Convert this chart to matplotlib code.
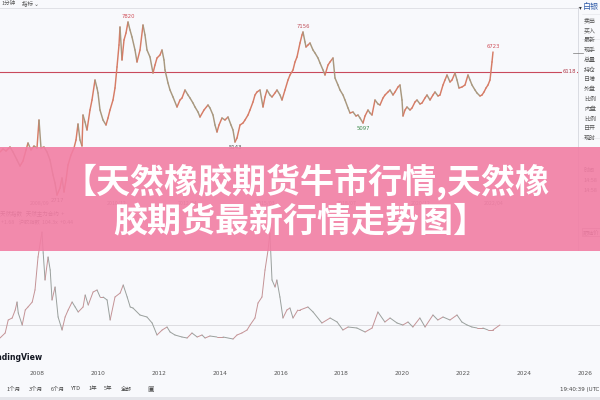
import numpy as np
import matplotlib
matplotlib.use('Agg')
import matplotlib.pyplot as plt
from matplotlib.collections import LineCollection
from matplotlib.patches import Rectangle

plt.rcParams['font.family'] = ['Noto Sans CJK SC', 'DejaVu Sans']

# ---------------- data ----------------
top_idx = [0, 3, 6, 10, 13, 17, 20, 23, 26, 28, 31, 34, 37, 39, 41, 44, 47, 50, 53, 55,
           57, 60, 62, 64, 66, 68, 71, 74, 76, 78, 80, 82, 83, 85, 87, 90, 92, 95, 97, 98,
           100, 103, 106, 108, 110, 113, 115, 117, 119, 120, 122, 124, 126, 128, 130, 132, 135, 137, 140, 143,
           145, 147, 150, 153, 155, 157, 160, 162, 164, 165, 168, 170, 173, 177, 180, 182, 185, 188, 190, 193,
           195, 198, 200, 204, 208, 210, 213, 215, 217, 219, 222, 225, 228, 231, 233, 235, 237, 240, 243, 245,
           248, 250, 253, 255, 257, 260, 263, 265, 267, 270, 272, 275, 277, 280, 282, 285, 288, 290, 293, 295,
           297, 300, 302, 303, 305, 306, 308, 310, 313, 315, 318, 320, 323, 325, 328, 330, 333, 335, 338, 340,
           343, 345, 348, 350, 353, 356, 358, 360, 363, 365, 368, 370, 372, 375, 378, 380, 383, 385, 388, 390,
           393, 395, 398, 400, 402, 403, 405, 407, 410, 412, 415, 417, 420, 422, 425, 427, 430, 433, 435, 438,
           440, 443, 445, 447, 450, 452, 455, 457, 459, 462, 465, 468, 470, 472, 475, 477, 480, 482, 484, 486,
           488, 490, 492, 493]
top_price = [3556, 3652, 3588, 3716, 3556, 3300, 3108, 3268, 3620, 3844, 3620, 3748, 3684, 4580, 3684, 3716, 3556, 3300, 2820, 2564,
             2180, 2404, 2724, 2276, 2660, 3140, 3460, 3684, 3940, 4452, 3940, 3748, 4740, 4516, 4260, 4900, 5220, 5860, 5604, 5444,
             4900, 4580, 4420, 4644, 4900, 5220, 5604, 6276, 6980, 7556, 6500, 7140, 7364, 7716, 7460, 7236, 6820, 6436, 6820, 7620,
             7300, 6820, 6596, 6084, 6340, 6564, 6660, 6820, 6500, 6180, 5764, 5540, 5316, 4996, 5220, 5284, 5540, 5380, 5284, 5124,
             4996, 4836, 4676, 4900, 5060, 4964, 4740, 4420, 4196, 4420, 4644, 4580, 4676, 4420, 4260, 3876, 4004, 4420, 4484, 4580,
             4740, 4900, 5156, 5380, 5476, 5540, 4996, 5316, 5540, 5380, 5316, 5444, 5540, 5380, 5220, 5540, 5860, 6020, 6180, 6436,
             6596, 7044, 7300, 7396, 7076, 6916, 6980, 7044, 6820, 6724, 6564, 6404, 6180, 6020, 6340, 6436, 6564, 5924, 5700, 5540,
             5380, 5220, 4964, 4804, 4836, 4708, 4740, 4644, 4484, 4708, 4900, 4804, 4740, 5220, 5092, 5060, 5284, 5380, 5476, 5540,
             5380, 5476, 5636, 5700, 5220, 4708, 4900, 4996, 4900, 4964, 5156, 5220, 5092, 5124, 5284, 5380, 5220, 5380, 5476, 5348,
             5380, 5700, 5860, 6020, 5796, 5860, 6084, 5860, 5604, 5636, 5700, 6020, 5860, 5700, 5540, 5444, 5348, 5380, 5476, 5604,
             5700, 5860, 6436, 6756]
ref_price = 6118
# (text, bar index, above?, colour)
peak_labels = [("7820", 128, True, '#d0505a'), ("7156", 303, True, '#c0505a'),
               ("6723", 493, True, '#d0505a'), ("5097", 363, False, '#3c8a4a'),
               ("5143", 235, False, '#444444'), ("2717", 57, False, '#555555')]
top_dates = ["2008/09", "2010/12", "2012/04", "2015/03", "2018/07", "2020/12", "2022/04"]

bot_year = [2006.78, 2006.95, 2007.05, 2007.18, 2007.28, 2007.34, 2007.38, 2007.51, 2007.61, 2007.70,
            2007.84, 2007.93, 2008.03, 2008.10, 2008.16, 2008.20, 2008.26, 2008.36, 2008.43, 2008.49,
            2008.59, 2008.69, 2008.82, 2008.92, 2009.02, 2009.15, 2009.25, 2009.35, 2009.51, 2009.58,
            2009.68, 2009.84, 2009.97, 2010.07, 2010.17, 2010.30, 2010.40, 2010.56, 2010.73, 2010.83,
            2010.96, 2011.06, 2011.15, 2011.38, 2011.61, 2011.78, 2011.94, 2012.11, 2012.27, 2012.37,
            2012.53, 2012.76, 2012.93, 2013.09, 2013.26, 2013.42, 2013.52, 2013.68, 2013.91, 2014.11,
            2014.44, 2014.57, 2014.73, 2014.90, 2015.00, 2015.16, 2015.26, 2015.39, 2015.49, 2015.59,
            2015.65, 2015.72, 2015.82, 2015.88, 2015.98, 2016.08, 2016.21, 2016.31, 2016.41, 2016.57,
            2016.64, 2016.90, 2017.07, 2017.36, 2017.63, 2017.86, 2018.05, 2018.22, 2018.51, 2018.78,
            2019.01, 2019.20, 2019.43, 2019.60, 2019.83, 2020.02, 2020.19, 2020.35, 2020.58, 2020.75,
            2021.01, 2021.17, 2021.34, 2021.57, 2021.80, 2021.96, 2022.13, 2022.29, 2022.46, 2022.65,
            2022.82, 2022.98, 2023.21]
bot_value = [8400, 9400, 12000, 12400, 14000, 15600, 13400, 11000, 14000, 14600,
             15600, 18000, 24600, 27400, 29600, 25400, 20000, 24600, 22000, 16000,
             18600, 12600, 10000, 12600, 14000, 15600, 14600, 13600, 14600, 17000,
             15000, 17600, 18000, 16600, 16600, 16000, 12000, 16600, 17400, 19000,
             16600, 14600, 14400, 13000, 12600, 11400, 9000, 10000, 10600, 9600,
             9000, 8600, 8400, 9400, 8600, 9000, 8400, 8800, 8600, 8600,
             8200, 9000, 9400, 10000, 11000, 12400, 15400, 16600, 22000, 26000,
             29400, 20000, 18600, 20000, 16600, 12400, 14000, 14400, 12400, 14000,
             14000, 14600, 13600, 11400, 12400, 11600, 10000, 10600, 10400, 9600,
             10400, 13600, 11600, 12400, 11400, 11000, 11600, 10600, 12400, 10600,
             13000, 12000, 12600, 12000, 13000, 11600, 11000, 10600, 10400, 10400,
             10000, 10000, 11000]
bot_ref = 11000
year_ticks = [2008, 2010, 2012, 2014, 2016, 2018, 2020, 2022, 2024, 2026]

side_labels = ["卖出", "买入", "最新", "现手", "总量", "持仓", "日增", "外盘", "比例", "内盘", "比例", "日开", "现时"]
range_buttons = ["1个月", "3个月", "6个月", "YTD", "1年", "5年", "全部"]
banner_lines = ["【天然橡胶期货牛市行情,天然橡", "胶期货最新行情走势图】"]

# ---------------- figure ----------------
W, H = 600, 400
BG = '#f8f9fc'
fig = plt.figure(figsize=(6, 4), dpi=100, facecolor=BG)


def box(x0, y0, x1, y1):
    return [x0 / W, 1 - y1 / H, (x1 - x0) / W, (y1 - y0) / H]


def colored_line(ax, x, y, up, down, lw):
    x = np.asarray(x, float)
    y = np.asarray(y, float)
    pts = np.column_stack([x, y])
    segs = np.stack([pts[:-1], pts[1:]], axis=1)
    cols = [up if b >= a else down for a, b in zip(y[:-1], y[1:])]
    ax.add_collection(LineCollection(segs, colors=cols, linewidths=lw, capstyle='round'))


# top price panel
ax_top = fig.add_axes(box(0, 0, 578, 250))
ax_top.set_xlim(0, 578)
ax_top.set_ylim(420, 8420)
ax_top.axis('off')
ax_top.axhline(ref_price, color='#c94a5c', lw=0.8)
colored_line(ax_top, top_idx, top_price, '#d67c66', '#a8987f', 1.05)
price_at = dict(zip(top_idx, top_price))
for txt, ix, above, col in peak_labels:
    ax_top.annotate(txt, xy=(ix, price_at[ix]), xytext=(0, 2.5 if above else -2.5),
                    textcoords='offset points', ha='center', va='bottom' if above else 'top',
                    fontsize=3.8, color=col, family='DejaVu Sans')
ax_top.text(576, ref_price, str(ref_price), ha='right', va='center', fontsize=3.8,
            color='#b03a4a', family='DejaVu Sans',
            bbox=dict(boxstyle='square,pad=0.1', fc=BG, ec='none'))

# bottom long-term panel
ax_bot = fig.add_axes(box(0, 230, 600, 345))
ax_bot.set_xlim(2006.78, 2026.50)
ax_bot.set_ylim(7000, 30000)
for s in ax_bot.spines.values():
    s.set_visible(False)
ax_bot.patch.set_alpha(0)
ax_bot.set_yticks([])
ax_bot.set_xticks(year_ticks)
ax_bot.set_xticklabels([str(y) for y in year_ticks], fontsize=4.2, color='#555555',
                       family='DejaVu Sans')
ax_bot.tick_params(axis='x', length=0, pad=19)
ax_bot.axhline(bot_ref, color='#d8d8dc', lw=0.6)
colored_line(ax_bot, bot_year, bot_value, '#c49396', '#9aa09d', 0.7)

# overlay (ui chrome + banner)
ov = fig.add_axes([0, 0, 1, 1], zorder=5)
ov.set_xlim(0, W)
ov.set_ylim(H, 0)
ov.axis('off')
ov.patch.set_alpha(0)

# top toolbar
ov.plot([0, 578], [7.5, 7.5], color='#dcdde2', lw=0.6)
ov.text(2, 3.5, "1分钟", fontsize=4, color='#555', va='center')
ov.text(22, 3.5, "指标 ⌄", fontsize=4, color='#555', va='center')
ov.text(580, 8, "▾", fontsize=4, color='#333', ha='center', va='center', family='DejaVu Sans')

# right info panel
ov.plot([578, 578], [7, 250], color='#d5d7de', lw=0.6)
ov.text(583, 7, "白银", fontsize=5.8, color='#2d5aa8', va='center')
for i, lab in enumerate(side_labels):
    yy = 21 + i * 9.8
    ov.text(584, yy, lab, fontsize=4.3, color='#555', va='center')
ov.plot([573, 583], [53, 53], color='#777', lw=0.5)
for yy in (14, 39, 138):
    ov.plot([582, 600], [yy, yy], color='#e2e3e8', lw=0.4)

# under-banner texts
for txt, xx in zip(top_dates, [40, 117, 188, 266, 347, 421, 494]):
    ov.text(xx, 204, txt, fontsize=3.8, color='#777', ha='center', va='center', zorder=10)
ov.text(0, 213, "天然指数   天然主力合约  +", fontsize=4, color='#555', va='center', zorder=10)
ov.text(1, 223, "+1.68    沪胶指数  104.3x  +0.44", fontsize=3.8, color='#666', va='center', zorder=10)
ov.text(584, 170, "时间", fontsize=4, color='#555', va='center', zorder=10)
ov.text(584, 180, "14:58", fontsize=4, color='#555', va='center', zorder=10)
ov.text(584, 190, "14:58", fontsize=4, color='#555', va='center', zorder=10)
ov.text(591, 232, "跟随价", fontsize=4, color='#555', va='center', ha='center', zorder=10,
        bbox=dict(boxstyle='square,pad=0.2', fc='none', ec='#999', lw=0.4))

# banner
ov.add_patch(Rectangle((0, 147), 600, 104, facecolor='#f27ea4', alpha=0.9, lw=0, zorder=20))
ov.text(306, 182, banner_lines[0], ha='center', va='center', fontsize=24.5, color='white',
        fontweight='heavy', zorder=21)
ov.text(300, 222, banner_lines[1], ha='center', va='center', fontsize=24.5, color='white',
        fontweight='heavy', zorder=21)

# branding + bottom bar
ov.text(43, 358, "TradingView", ha='right', va='center', fontsize=5.6, fontweight='bold',
        color='#131722', family='DejaVu Sans')
bx = [14, 36, 58, 76, 93, 108, 126]
for lab, xx in zip(range_buttons, bx):
    ov.text(xx, 389, lab, fontsize=4, color='#444', ha='center', va='center')
ov.text(151, 389, "▣", fontsize=5, color='#555', ha='center', va='center', family='DejaVu Sans')
ov.text(599, 389, "19:40:39 (UTC", fontsize=4, color='#444', ha='right', va='center',
        family='DejaVu Sans')
ov.add_patch(Rectangle((0, 397), 600, 3, facecolor='#e4e5ea', lw=0))

fig.savefig('out.png', dpi=100, facecolor=BG)
